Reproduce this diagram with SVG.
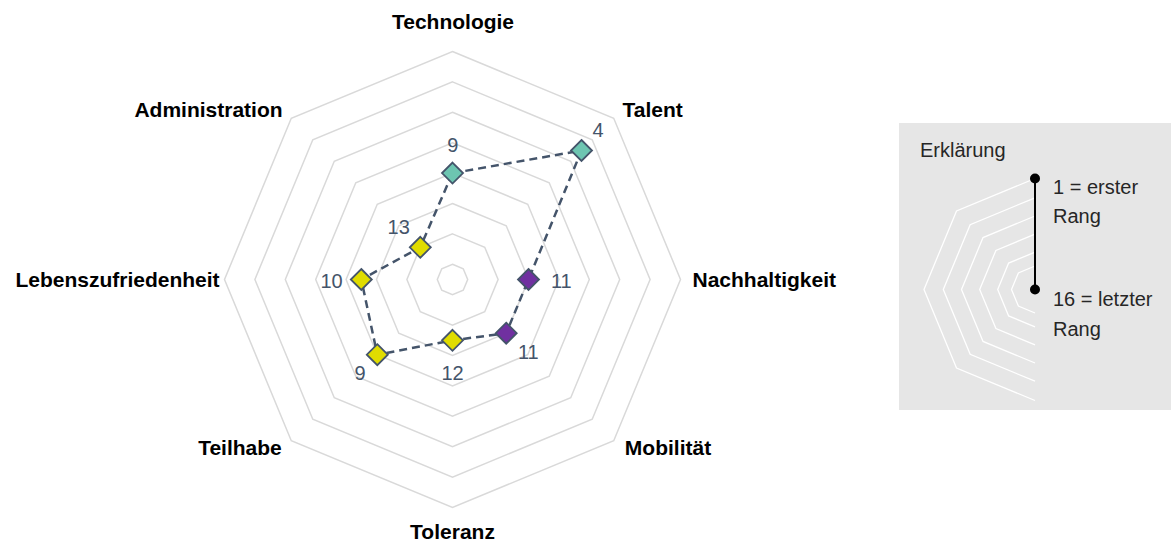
<svg xmlns="http://www.w3.org/2000/svg" width="1171" height="545" viewBox="0 0 1171 545">
<style>
.ring{fill:none;stroke:#D9D9D9;stroke-width:1.5}
.axis{font-family:"Liberation Sans",Arial,sans-serif;font-weight:bold;font-size:21px;fill:#000;text-anchor:middle}
.val{font-family:"Liberation Sans",Arial,sans-serif;font-size:20px;fill:#44546A;text-anchor:middle}
.leg{font-family:"Liberation Sans",Arial,sans-serif;font-size:20px;fill:#262626}
.series{fill:none;stroke:#44546A;stroke-width:2.5;stroke-dasharray:8 5;stroke-linejoin:round}
.mk{stroke:#44546A;stroke-width:1.8}
.teal{fill:#6DC5B1}
.yel{fill:#E0DC00}
.pur{fill:#7030A0}
.lg{fill:none;stroke:#FFFFFF;stroke-width:1.3}
</style>
<defs>
<path id="dia" d="M0,-10.5 L10.5,0 L0,10.5 L-10.5,0 Z"/>
</defs>
<rect width="1171" height="545" fill="#FFFFFF"/>
<g id="grid">
<polygon class="ring" points="452.5,51.5 613.72,118.28 680.5,279.5 613.72,440.72 452.5,507.5 291.28,440.72 224.5,279.5 291.28,118.28"/>
<polygon class="ring" points="452.5,81.9 592.22,139.78 650.1,279.5 592.22,419.22 452.5,477.1 312.78,419.22 254.9,279.5 312.78,139.78"/>
<polygon class="ring" points="452.5,112.3 570.73,161.27 619.7,279.5 570.73,397.73 452.5,446.7 334.27,397.73 285.3,279.5 334.27,161.27"/>
<polygon class="ring" points="452.5,142.7 549.23,182.77 589.3,279.5 549.23,376.23 452.5,416.3 355.77,376.23 315.7,279.5 355.77,182.77"/>
<polygon class="ring" points="452.5,173.1 527.74,204.26 558.9,279.5 527.74,354.74 452.5,385.9 377.26,354.74 346.1,279.5 377.26,204.26"/>
<polygon class="ring" points="452.5,203.5 506.24,225.76 528.5,279.5 506.24,333.24 452.5,355.5 398.76,333.24 376.5,279.5 398.76,225.76"/>
<polygon class="ring" points="452.5,233.9 484.74,247.26 498.1,279.5 484.74,311.74 452.5,325.1 420.26,311.74 406.9,279.5 420.26,247.26"/>
<polygon class="ring" points="452.5,264.3 463.25,268.75 467.7,279.5 463.25,290.25 452.5,294.7 441.75,290.25 437.3,279.5 441.75,268.75"/>
</g>
<g id="connectors">
<polygon class="series" points="452.5,173.1 581.5,150.5 528.5,279.5 506.2,333.2 452.5,340.3 377.3,354.7 361.3,279.5 420.3,247.3"/>
</g>
<g id="node-technologie">
<text class="axis" x="453" y="29">Technologie</text>
<use href="#dia" class="mk teal" x="452.5" y="173.1"/>
<text class="val" x="452.7" y="151.5">9</text>
</g>
<g id="node-talent">
<text class="axis" x="652.7" y="117.3">Talent</text>
<use href="#dia" class="mk teal" x="581.5" y="150.5"/>
<text class="val" x="598" y="136.7">4</text>
</g>
<g id="node-nachhaltigkeit">
<text class="axis" x="764.3" y="286.7">Nachhaltigkeit</text>
<use href="#dia" class="mk pur" x="528.5" y="279.5"/>
<text class="val" x="561.3" y="287.7">11</text>
</g>
<g id="node-mobilitaet">
<text class="axis" x="668" y="455">Mobilität</text>
<use href="#dia" class="mk pur" x="506.2" y="333.2"/>
<text class="val" x="528.3" y="359.3">11</text>
</g>
<g id="node-toleranz">
<text class="axis" x="452.5" y="539">Toleranz</text>
<use href="#dia" class="mk yel" x="452.5" y="340.3"/>
<text class="val" x="452.5" y="380">12</text>
</g>
<g id="node-teilhabe">
<text class="axis" x="240" y="455">Teilhabe</text>
<use href="#dia" class="mk yel" x="377.3" y="354.7"/>
<text class="val" x="360" y="380">9</text>
</g>
<g id="node-lebenszufriedenheit">
<text class="axis" x="117.5" y="287.3">Lebenszufriedenheit</text>
<use href="#dia" class="mk yel" x="361.3" y="279.5"/>
<text class="val" x="331.5" y="288">10</text>
</g>
<g id="node-administration">
<text class="axis" x="208.5" y="117.3">Administration</text>
<use href="#dia" class="mk yel" x="420.3" y="247.3"/>
<text class="val" x="398.7" y="234.3">13</text>
</g>
<g id="legend">
<rect x="899" y="123" width="272" height="287" fill="#E6E6E6"/>
<text class="leg" x="920" y="157">Erklärung</text>
<polyline class="lg" points="1035,178.5 956.51,211.01 924,289.5 956.51,367.99 1035,400.5"/>
<polyline class="lg" points="1035,197.8 970.16,224.66 943.3,289.5 970.16,354.34 1035,381.2"/>
<polyline class="lg" points="1035,216 983.03,237.53 961.5,289.5 983.03,341.47 1035,363"/>
<polyline class="lg" points="1035,234.2 995.9,250.4 979.7,289.5 995.9,328.6 1035,344.8"/>
<polyline class="lg" points="1035,252.2 1008.62,263.12 997.7,289.5 1008.62,315.88 1035,326.8"/>
<polyline class="lg" points="1035,266 1018.38,272.88 1011.5,289.5 1018.38,306.12 1035,313"/>
<line x1="1035" y1="178.5" x2="1035" y2="289.5" stroke="#000" stroke-width="2"/>
<circle cx="1035" cy="178.5" r="5" fill="#000"/>
<circle cx="1035" cy="289.5" r="5" fill="#000"/>
<text class="leg" x="1053" y="194">1 = erster</text>
<text class="leg" x="1053" y="223">Rang</text>
<text class="leg" x="1053" y="306">16 = letzter</text>
<text class="leg" x="1053" y="336">Rang</text>
</g>
</svg>
